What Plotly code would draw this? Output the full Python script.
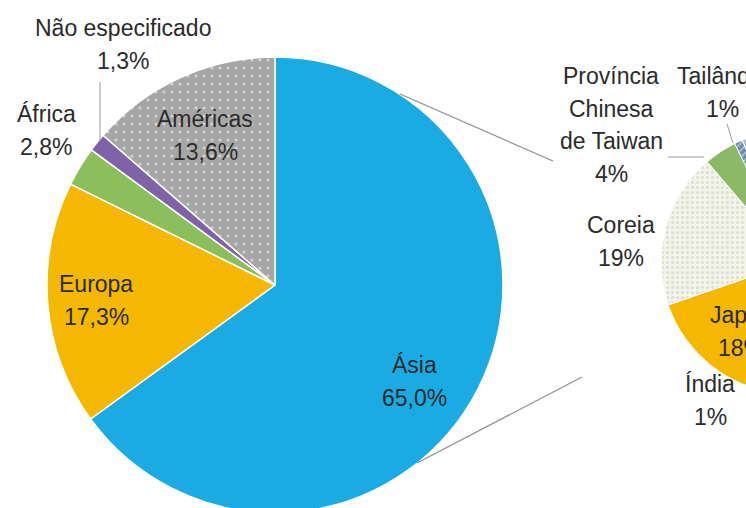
import plotly.graph_objects as go

# ---------------- data ----------------
regions = ["Ásia", "Europa", "África", "Não especificado", "Américas"]
region_share = [65.0, 17.3, 2.8, 1.3, 13.6]
region_colors = ["#1BABE3", "#F5B800", "#8CBF5C", "#7F63A6", "#A6A6A6"]
region_pattern = ["", "", "", "", "."]

asia_countries = ["Índia", "Japão", "Coreia", "Província Chinesa de Taiwan", "Tailândia", "Outros"]
asia_share = [1, 18, 19, 4, 1, 57]
asia_colors = ["#4F81BD", "#F5B800", "#F3F5EC", "#8DB866", "#6F8CA6", "#B9BCBF"]
asia_pattern = ["", "", ".", "", "/", ""]

# label line splits (text only)
region_label_lines = [["Ásia"], ["Europa"], ["África"], ["Não especificado"], ["Américas"]]
asia_label_lines = [["Índia"], ["Japão"], ["Coreia"], ["Província", "Chinesa", "de Taiwan"], ["Tailândia"], []]

# ---------------- layout helpers ----------------
W, H = 960, 540
FONT = "Liberation Sans, Arial, sans-serif"
LINE = 32.5


def px(x, y):
    return x / W, 1 - y / H


def dom(cx, cy, r):
    return dict(x=[(cx - r) / W, (cx + r) / W], y=[1 - (cy + r) / H, 1 - (cy - r) / H])


fig = go.Figure()

fig.add_trace(go.Pie(
    labels=regions, values=region_share, sort=False, direction="clockwise", rotation=0,
    marker=dict(colors=region_colors, line=dict(color="white", width=1.5),
                pattern=dict(shape=region_pattern, fgcolor="white", fillmode="overlay",
                             size=8, solidity=0.12)),
    textinfo="none", textposition="none", hoverinfo="skip", showlegend=False,
    domain=dom(275, 285, 228),
))

fig.add_trace(go.Pie(
    labels=asia_countries, values=asia_share, sort=False, direction="clockwise", rotation=182.6,
    marker=dict(colors=asia_colors, line=dict(color="white", width=1),
                pattern=dict(shape=asia_pattern, fgcolor=["white", "white", "#C3CAAA", "white", "white", "white"],
                             fillmode="overlay", size=5, solidity=0.3)),
    textinfo="none", textposition="none", hoverinfo="skip", showlegend=False,
    domain=dom(793, 262, 132),
))

# label anchor positions (centre of first line), pixels
region_label_pos = [(414, 365), (96, 284), (46, 114), (123, 28), (205, 119)]
asia_label_pos = [(710, 384), (741, 315), (621, 225), (611, 76), (722, 76), None]

annotations = []


def add_label(lines, value_text, pos):
    x0, y0 = pos
    for i, t in enumerate(lines + [value_text]):
        ax, ay = px(x0, y0 + i * LINE)
        annotations.append(dict(x=ax, y=ay, xref="paper", yref="paper", text=t, showarrow=False,
                                xanchor="center", yanchor="middle",
                                font=dict(family=FONT, size=23, color="#2B2B2B")))


for lines, v, pos in zip(region_label_lines, region_share, region_label_pos):
    add_label(lines, f"{v:.1f}".replace(".", ",") + "%", pos)

for lines, v, pos in zip(asia_label_lines, asia_share, asia_label_pos):
    if pos is not None:
        add_label(lines, f"{v:.0f}%", pos)


def seg(x0, y0, x1, y1, color="#8F8F8F", width=1.2):
    a, b = px(x0, y0)
    c, d = px(x1, y1)
    return dict(type="line", xref="paper", yref="paper", x0=a, y0=b, x1=c, y1=d,
                line=dict(color=color, width=width))


shapes = [
    seg(400, 94, 553, 161),          # connector top
    seg(417, 463, 582, 377),         # connector bottom
    seg(100, 82, 100, 141, "#9A9A9A", 1),   # Não especificado leader
    seg(668, 157, 704, 157, "#9A9A9A", 1),  # Taiwan leader
    seg(727, 124, 733, 143, "#9A9A9A", 1),  # Tailândia leader
]

fig.update_layout(
    width=W, height=H, margin=dict(l=0, r=0, t=0, b=0),
    paper_bgcolor="white", plot_bgcolor="white",
    annotations=annotations, shapes=shapes, showlegend=False,
)

fig.write_html(
    "out.html",
    config={"displayModeBar": False},
    post_script="document.body.style.margin='0';document.body.style.overflow='hidden';"
                "document.documentElement.style.overflow='hidden';",
)
